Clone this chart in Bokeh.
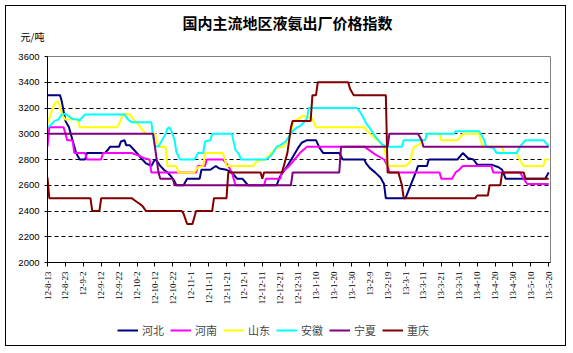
from bokeh.plotting import figure
from bokeh.layouts import column
from bokeh.models import Range1d, FixedTicker, Legend, LegendItem, Label
from bokeh.embed import file_html
from bokeh.resources import INLINE

# ---- data (days counted from 2012-08-13) ----
title_text = "国内主流地区液氨出厂价格指数"
unit_text = "元/吨"

x_tick_days = [0, 10, 20, 30, 40, 50, 60, 70, 80, 90, 100, 110, 120, 130, 140,
               150, 160, 170, 180, 190, 200, 210, 220, 230, 240, 250, 260, 270, 280]
x_tick_labels = ["12-8-13", "12-8-23", "12-9-2", "12-9-12", "12-9-22", "12-10-2",
                 "12-10-12", "12-10-22", "12-11-1", "12-11-11", "12-11-21", "12-12-1",
                 "12-12-11", "12-12-21", "12-12-31", "13-1-10", "13-1-20", "13-1-30",
                 "13-2-9", "13-2-19", "13-3-1", "13-3-11", "13-3-21", "13-3-31",
                 "13-4-10", "13-4-20", "13-4-30", "13-5-10", "13-5-20"]
y_ticks = [2000, 2200, 2400, 2600, 2800, 3000, 3200, 3400, 3600]

hebei_day = [0, 7, 8, 10, 12, 14, 16, 18, 21, 22, 32, 34, 35, 40, 41, 43, 44, 46, 48, 50,
             53, 55, 58, 60, 61, 63, 65, 67, 69, 71, 72, 76, 78, 85, 86, 91, 94, 96, 100,
             103, 106, 109, 112, 128, 130, 134, 137, 140, 142, 145, 150, 152, 154, 163,
             165, 177, 178, 180, 183, 186, 188, 189, 200, 202, 204, 206, 207, 212, 213,
             229, 232, 235, 238, 240, 248, 252, 254, 256, 278, 280]
hebei_val = [3300, 3300, 3250, 3100, 3050, 2950, 2850, 2800, 2800, 2850, 2850, 2880, 2900,
             2900, 2940, 2950, 2910, 2910, 2880, 2850, 2800, 2770, 2750, 2800, 2790, 2750,
             2720, 2700, 2670, 2630, 2600, 2600, 2650, 2650, 2720, 2720, 2750, 2730, 2720,
             2700, 2650, 2650, 2600, 2600, 2670, 2750, 2820, 2890, 2930, 2950, 2950, 2890,
             2850, 2850, 2800, 2800, 2770, 2735, 2700, 2660, 2610, 2500, 2500, 2570, 2640,
             2710, 2750, 2750, 2800, 2800, 2850, 2810, 2800, 2760, 2760, 2740, 2720, 2650,
             2650, 2700]

henan_day = [0, 1, 9, 10, 11, 14, 15, 21, 22, 30, 31, 47, 51, 54, 57, 58, 83, 84, 88, 89,
             98, 101, 103, 105, 121, 122, 130, 131, 135, 138, 141, 145, 177, 183, 188, 190,
             191, 219, 220, 226, 228, 230, 232, 248, 249, 264, 266, 268, 280]
henan_val = [2900, 3050, 3050, 3000, 2950, 2950, 2850, 2850, 2800, 2800, 2850, 2850, 2830,
             2810, 2800, 2700, 2700, 2750, 2750, 2800, 2800, 2750, 2700, 2600, 2600, 2650,
             2650, 2700, 2750, 2800, 2850, 2900, 2900, 2840, 2800, 2750, 2700, 2700, 2650,
             2650, 2700, 2720, 2750, 2750, 2700, 2700, 2650, 2610, 2610]

shandong_day = [0, 2, 4, 6, 7, 8, 10, 17, 18, 39, 41, 42, 44, 46, 48, 51, 53, 55, 60, 62,
                66, 67, 72, 73, 82, 84, 87, 88, 98, 100, 115, 117, 122, 125, 128, 132, 136,
                137, 143, 148, 150, 177, 178, 181, 185, 188, 189, 190, 200, 202, 203, 204,
                205, 208, 209, 211, 212, 219, 220, 229, 231, 232, 241, 242, 243, 254, 255,
                262, 264, 266, 277, 278, 280]
shandong_val = [3080, 3160, 3240, 3250, 3210, 3150, 3110, 3110, 3050, 3050, 3110, 3150,
                3155, 3150, 3110, 3070, 3030, 3000, 3000, 2900, 2900, 2750, 2750, 2700,
                2700, 2740, 2750, 2850, 2850, 2750, 2750, 2790, 2800, 2850, 2890, 2900,
                3000, 3090, 3140, 3120, 3050, 3050, 3030, 2990, 2940, 2900, 2830, 2750,
                2750, 2770, 2800, 2880, 2900, 2920, 2950, 2950, 3000, 3000, 2950, 2950,
                2980, 3000, 3000, 2950, 2900, 2900, 2850, 2850, 2790, 2750, 2750, 2800,
                2800]

anhui_day = [0, 2, 4, 6, 8, 10, 12, 14, 17, 18, 19, 21, 43, 45, 47, 58, 59, 60, 62, 64,
             66, 67, 68, 69, 71, 72, 74, 82, 83, 84, 87, 88, 91, 92, 103, 105, 107, 108,
             122, 124, 126, 128, 130, 133, 135, 137, 139, 141, 142, 145, 146, 173, 175,
             177, 178, 180, 183, 187, 190, 198, 199, 211, 212, 227, 228, 241, 242, 244,
             245, 249, 251, 262, 264, 267, 277, 279, 280]
anhui_val = [3050, 3070, 3100, 3110, 3150, 3155, 3135, 3115, 3110, 3100, 3120, 3150, 3150,
             3110, 3090, 3090, 2980, 2905, 2900, 2950, 3000, 3040, 3050, 3030, 2950, 2860,
             2800, 2800, 2820, 2850, 2850, 2940, 2950, 3000, 3000, 2875, 2840, 2800, 2800,
             2820, 2850, 2900, 2910, 2940, 2980, 3020, 3045, 3060, 3070, 3120, 3200, 3200,
             3160, 3110, 3080, 3045, 2980, 2915, 2900, 2900, 2950, 2950, 3000, 3000, 3020,
             3020, 3000, 2950, 2900, 2890, 2850, 2850, 2900, 2950, 2950, 2920, 2900]

ningxia_day = [0, 59, 60, 61, 62, 63, 70, 71, 136, 137, 163, 164, 190, 191, 207, 209, 210, 280]
ningxia_val = [3000, 3000, 2900, 2800, 2700, 2650, 2650, 2600, 2600, 2700, 2700, 2900, 2900,
               3000, 3000, 2950, 2900, 2900]

chongqing_day = [0, 1, 24, 25, 29, 30, 47, 49, 51, 53, 55, 75, 76, 78, 81, 83, 92, 93, 100,
                 101, 119, 120, 121, 131, 132, 133, 134, 135, 136, 137, 147, 148, 150, 151,
                 168, 169, 171, 189, 190, 196, 197, 198, 199, 239, 240, 246, 247, 253, 254,
                 266, 267, 280]
chongqing_val = [2660, 2500, 2500, 2400, 2400, 2500, 2500, 2480, 2460, 2440, 2400, 2400,
                 2380, 2300, 2300, 2400, 2400, 2500, 2500, 2700, 2700, 2650, 2700, 2700,
                 2750, 2800, 2850, 2950, 3050, 3100, 3100, 3300, 3300, 3400, 3400, 3350,
                 3300, 3300, 2700, 2700, 2650, 2600, 2500, 2500, 2520, 2520, 2600, 2600,
                 2700, 2700, 2650, 2650]

series_names = ["河北", "河南", "山东", "安徽", "宁夏", "重庆"]
series_colors = ["#000080", "#FF00FF", "#FFFF00", "#00FFFF", "#800080", "#800000"]
series_days = [hebei_day, henan_day, shandong_day, anhui_day, ningxia_day, chongqing_day]
series_vals = [hebei_val, henan_val, shandong_val, anhui_val, ningxia_val, chongqing_val]

W = 561

# ---- header strip (title + unit) ----
h = figure(width=W, height=40, output_backend="svg", toolbar_location=None,
           x_range=Range1d(0, W), y_range=Range1d(40, 0),
           x_axis_location=None, y_axis_location=None, min_border=0,
           min_border_left=0, min_border_right=0, min_border_top=0, min_border_bottom=0)
h.frame_align = False
h.styles = {"border-left": "1px solid black", "border-right": "1px solid black",
            "border-top": "1px solid black"}
h.grid.visible = False
h.outline_line_color = None
h.background_fill_color = "white"
h.border_fill_color = "white"
h.add_layout(Label(x=281, y=16, text=title_text, text_align="center",
                   text_baseline="middle", text_font="Noto Sans CJK SC",
                   text_font_size="15px", text_font_style="bold", text_color="black"))
h.add_layout(Label(x=14, y=30, text=unit_text, text_align="left",
                   text_baseline="middle", text_font="Noto Sans CJK SC",
                   text_font_size="10px", text_color="black"))

# ---- main chart ----
p = figure(width=W, height=272, output_backend="svg", toolbar_location=None,
           x_range=Range1d(0, 281), y_range=Range1d(2000, 3600),
           min_border_left=41, min_border_right=17, min_border_top=11,
           min_border_bottom=55)
p.frame_align = False
p.styles = {"border-left": "1px solid black", "border-right": "1px solid black"}
p.background_fill_color = "white"
p.border_fill_color = "white"
p.outline_line_color = "#808080"
p.outline_line_width = 1

p.xgrid.visible = False
p.ygrid.ticker = FixedTicker(ticks=y_ticks[1:-1])
p.ygrid.grid_line_color = "black"
p.ygrid.grid_line_dash = "4 3"
p.ygrid.grid_line_width = 1

p.yaxis.ticker = FixedTicker(ticks=y_ticks)
p.yaxis.minor_tick_line_color = None
p.yaxis.major_tick_in = 0
p.yaxis.major_tick_out = 3
p.yaxis.major_label_standoff = 5
p.yaxis.major_label_text_font = "Liberation Sans"
p.yaxis.major_label_text_font_size = "9.5px"
p.yaxis.major_label_text_color = "black"
p.yaxis.axis_line_color = "black"

p.xaxis.ticker = FixedTicker(ticks=x_tick_days)
p.xaxis.major_label_overrides = {d: s for d, s in zip(x_tick_days, x_tick_labels)}
p.xaxis.major_label_orientation = 1.5707963
p.xaxis.minor_tick_line_color = None
p.xaxis.major_tick_in = 0
p.xaxis.major_tick_out = 4
p.xaxis.major_label_standoff = 5
p.xaxis.major_label_text_font = "Liberation Serif"
p.xaxis.major_label_text_font_size = "9px"
p.xaxis.major_label_text_color = "black"
p.xaxis.axis_line_color = "black"

for color, days, vals in zip(series_colors, series_days, series_vals):
    p.line(days, vals, line_color=color, line_width=2)

# ---- legend strip ----
q = figure(width=W, height=29, output_backend="svg", toolbar_location=None,
           x_range=Range1d(0, 1), y_range=Range1d(0, 1),
           x_axis_location=None, y_axis_location=None, min_border=0,
           min_border_left=0, min_border_right=0, min_border_top=0, min_border_bottom=0)
q.frame_align = False
q.styles = {"border-left": "1px solid black", "border-right": "1px solid black",
            "border-bottom": "1px solid black"}
q.grid.visible = False
q.outline_line_color = None
q.background_fill_color = "white"
q.border_fill_color = "white"

items = []
for name, color in zip(series_names, series_colors):
    r = q.line(x=[-5, -4], y=[-5, -4], line_color=color, line_width=2)
    items.append(LegendItem(label=name, renderers=[r]))

legend = Legend(items=items, orientation="horizontal", location=(111, 8),
                glyph_width=21, glyph_height=12, label_standoff=4, spacing=6,
                label_text_font="Noto Sans CJK SC", label_text_font_size="11px",
                padding=0, margin=0, border_line_alpha=0, background_fill_alpha=0)
q.add_layout(legend, "center")

layout = column(h, p, q, spacing=0, styles={"margin-left": "5px", "margin-top": "5px"})

open("out.html", "w").write(file_html(layout, INLINE))
